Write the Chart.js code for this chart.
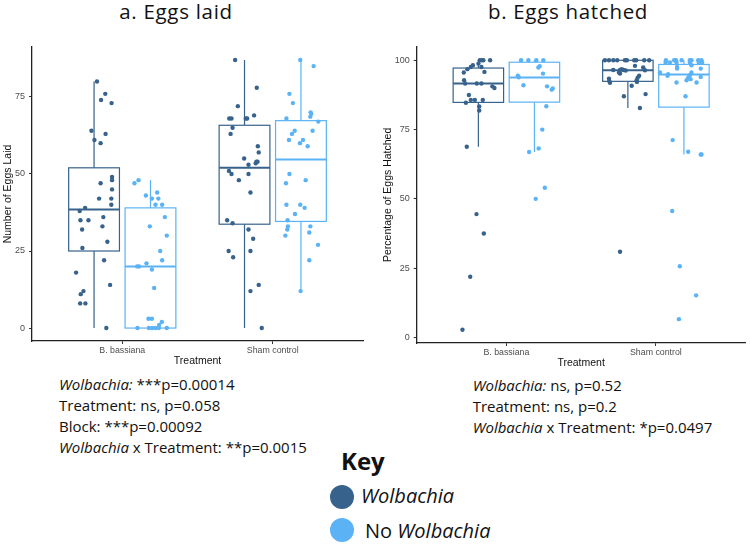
<!DOCTYPE html>
<html><head><meta charset="utf-8">
<script src="https://cdn.jsdelivr.net/npm/chart.js@4.4.1/dist/chart.umd.min.js"></script>
<style>
html,body{margin:0;padding:0;background:#fff;}
body{width:750px;height:555px;position:relative;overflow:hidden;font-family:"Open Sans",sans-serif;color:#111;}
canvas{position:absolute;}
.t{position:absolute;white-space:nowrap;}
.title{font-size:20.5px;line-height:24px;letter-spacing:0.7px;transform:translateX(-50%);}
.stats{font-size:15px;line-height:20.8px;}
.key{font-size:24px;font-weight:bold;line-height:30px;}
.lab{font-size:20px;line-height:24px;}
.dot{position:absolute;width:24px;height:24px;border-radius:50%;}
</style></head>
<body>
<div class="t title" style="left:176px;top:-1.5px">a. Eggs laid</div>
<div class="t title" style="left:568px;top:-1.5px">b. Eggs hatched</div>
<canvas id="ca" width="375" height="337" style="left:0;top:30px"></canvas>
<canvas id="cb" width="375" height="339" style="left:375px;top:30px"></canvas>
<div class="t stats" style="left:59px;top:374.4px"><i>Wolbachia:</i> ***p=0.00014<br>Treatment: ns, p=0.058<br>Block: ***p=0.00092<br><i>Wolbachia</i> x Treatment: **p=0.0015</div>
<div class="t stats" style="left:472.7px;top:375.2px"><i>Wolbachia:</i> ns, p=0.52<br>Treatment: ns, p=0.2<br><i>Wolbachia</i> x Treatment: *p=0.0497</div>
<div class="t key" style="left:341px;top:445.7px">Key</div>
<div class="dot" style="left:329.5px;top:484.6px;background:#37628c"></div>
<div class="dot" style="left:329.5px;top:518px;background:#5bb3f5"></div>
<div class="t lab" style="left:361px;top:483.5px"><i>Wolbachia</i></div>
<div class="t lab" style="left:365px;top:518.5px">No <i>Wolbachia</i></div>
<script>
// ---------- data ----------
const categories = ['B. bassiana', 'Sham control'];
const seriesNames = ['Wolbachia', 'No Wolbachia'];
const aYTicks = [0, 25, 50, 75];
const bYTicks = [0, 25, 50, 75, 100];

// box stats per category: [min, q1, median, q3, max]
const aWolBox   = [[0, 25, 38.5, 52, 80], [0, 33.7, 52, 65.8, 87]];
const aNoWolBox = [[0, 0, 20, 39, 48], [12.1, 34.6, 54.7, 67.3, 87]];
const bWolBox   = [[68.8, 84.8, 91.6, 97.2, 100], [82.8, 92.4, 96.4, 100, 100]];
const bNoWolBox = [[66.9, 84.9, 93.8, 99.3, 100], [66.0, 83.1, 94.9, 98.5, 100]];

// jittered points (x in category units, y values)
const aWolX = [0.832,0.887,0.859,0.929,0.795,0.815,0.889,0.856,0.932,0.932,0.856,0.932,0.846,0.927,0.927,0.753,0.717,0.722,0.775,0.874,0.868,0.733,0.901,0.735,0.879,0.693,0.919,0.742,0.724,0.720,0.755,0.894,
  1.750,1.894,1.768,1.711,1.726,1.821,1.830,1.876,1.733,1.720,1.901,1.907,1.810,1.839,1.887,1.892,1.899,1.709,1.726,1.839,1.775,1.852,1.697,1.733,1.839,1.870,1.707,1.852,1.737,1.907,1.852,1.927];
const aWolY = [80,76,74,73,64,61,63,60,49,48,47,45,42,42,40,39,38,35,35,36,33,32,28,26,22,18,14,12,11,8,8,0,
  87,78,72,68,68,68,68,69,65,63,59,57,55,53,53.5,54,54,51,50,50,48,44,35,34,32,29,25,25,23,14,12,0];
const aNoWolX = [1.081,1.108,1.157,1.232,1.197,1.240,1.221,1.265,1.283,1.183,1.296,1.252,1.265,1.161,1.099,1.111,1.197,1.212,1.174,1.197,1.263,1.245,1.101,1.177,1.199,1.221,1.243,1.296,
  2.183,2.272,2.111,2.134,2.252,2.256,2.250,2.091,2.303,2.146,2.128,2.265,2.108,2.201,2.181,2.232,2.111,2.088,2.219,2.091,2.183,2.212,2.148,2.099,2.101,2.097,2.250,2.243,2.084,2.301,2.243,2.185];
const aNoWolY = [47,48,43,44,42,42,40,40,36,33,30,25,22,21,20,20,19,13,3,3,2,1,0,0,0,0,0,0,
  87,85,76,73,70,69.5,68.6,68,67,64,63,64,61,61,60,59,50,47,48,40,40,39,37,35,33,32,33,31,30,27,22,12];

const bWolX = [0.706,0.758,0.849,0.800,0.735,0.818,0.818,0.729,0.762,0.789,0.842,0.749,0.717,0.724,0.802,0.833,0.906,0.920,0.715,0.739,0.762,0.776,0.853,0.833,0.822,0.836,0.846,0.891,0.813,
  1.659,1.686,1.715,1.741,1.793,1.806,1.855,1.868,1.922,1.955,1.860,1.915,1.927,1.715,1.760,1.771,1.784,1.798,1.760,1.753,1.878,1.888,1.686,1.688,1.693,1.871,1.873,1.838,1.786,1.931,1.893,1.760];
const bWolY = [2.8,21.9,37.5,44.5,68.8,83.3,81.9,84.7,85.7,85.7,85.7,87.5,92.8,91.6,91.6,91.6,90.6,90.0,95.6,96.8,97.6,98.2,95.8,97.6,100,100,100,100,98.8,
  100,100,100,100,100,100,100,100,100,100,98.0,97.4,96.4,96.5,96.5,96.8,96.5,96.3,95.2,95.6,93.7,94.4,93.4,92.5,91.9,92.8,92.2,90.8,87.0,87.8,82.8,30.9];
const bNoWolX = [1.098,1.147,1.200,1.247,1.223,1.214,1.245,1.076,1.083,1.114,1.272,1.303,1.310,1.267,1.240,1.216,1.152,1.196,1.257,
  2.067,2.122,2.134,2.172,2.227,2.238,2.283,2.305,2.065,2.094,2.138,2.227,2.287,2.309,2.142,2.142,2.238,2.300,2.027,2.082,2.078,2.238,2.227,2.216,2.205,2.232,2.300,2.138,2.272,2.198,2.112,2.216,2.300,2.305,2.109,2.160,2.269,2.154];
const bNoWolY = [100,100,100,100,97.9,97.4,95.2,94.4,93.9,91.0,90.6,89.4,89.8,83.4,75.0,68.2,66.9,50.0,54.0,
  100,100,100,100,100,100,100,100,99.2,99.2,99.2,99.2,99.2,99.2,97.6,97.0,98.2,97.0,95.6,95.0,94.4,95.6,94.6,93.7,92.8,93.2,94.0,92.0,92.0,87.0,71.2,67.0,66.0,66.0,45.6,25.7,15.2,6.6];

// ---------- styling ----------
const DARK = '#37628c', LIGHT = '#5bb3f5';
const DODGE = 0.1875, HALFW = 0.16875;

function pts(xs, ys){ return xs.map((x,i)=>({x:x, y:ys[i]})); }

function boxPlugin(groups){
  return {
    id:'boxes',
    beforeDatasetsDraw(chart){
      const {ctx, scales:{x, y}} = chart;
      ctx.save();
      groups.forEach(g=>{
        g.stats.forEach((s,i)=>{
          const c = i + 1 + g.offset;
          const xl = x.getPixelForValue(c - HALFW), xr = x.getPixelForValue(c + HALFW), xc = x.getPixelForValue(c);
          const [mn,q1,md,q3,mx] = s.map(v=>y.getPixelForValue(v));
          ctx.strokeStyle = g.color; ctx.lineWidth = 1.2;
          ctx.beginPath();
          ctx.moveTo(xc, q3); ctx.lineTo(xc, mx);
          ctx.moveTo(xc, q1); ctx.lineTo(xc, mn);
          ctx.stroke();
          ctx.fillStyle = '#fff';
          ctx.fillRect(xl, q3, xr-xl, q1-q3);
          ctx.strokeRect(xl, q3, xr-xl, q1-q3);
          ctx.lineWidth = 2;
          ctx.beginPath(); ctx.moveTo(xl, md); ctx.lineTo(xr, md); ctx.stroke();
        });
      });
      ctx.restore();
    }
  };
}

function makeChart(id, o){
  new Chart(document.getElementById(id), {
    type:'scatter',
    data:{datasets:[
      {label:seriesNames[0], data:pts(o.wx,o.wy), backgroundColor:DARK, borderWidth:0, pointRadius:2.2},
      {label:seriesNames[1], data:pts(o.nx,o.ny), backgroundColor:LIGHT, borderWidth:0, pointRadius:2.2}
    ]},
    options:{
      responsive:false, animation:false, maintainAspectRatio:false,
      layout:{padding:{top:o.padTop, right:o.padRight, left:0, bottom:0}},
      plugins:{legend:{display:false}, tooltip:{enabled:false}},
      scales:{
        x:{type:'linear', min:0.4, max:2.6,
          afterBuildTicks:s=>{ s.ticks = categories.map((c,i)=>({value:i+1})); },
          afterFit:s=>{ s.height = 26; },
          ticks:{callback:v=>categories[Math.round(v)-1], font:{family:'"Liberation Sans"', size:8.8}, color:'#4d4d4d', padding:1, maxRotation:0, autoSkip:false},
          grid:{drawOnChartArea:false, drawTicks:true, tickLength:3, color:'#333'},
          border:{display:true, color:'#222', width:1.3},
          title:{display:true, text:'Treatment', font:{family:'"Liberation Sans"', size:10.5}, color:'#111', padding:{top:0,bottom:0}}
        },
        y:{type:'linear', min:o.yMin, max:o.yMax,
          afterBuildTicks:s=>{ s.ticks = o.yTicks.map(v=>({value:v})); },
          afterFit:s=>{ s.width = o.yWidth; },
          ticks:{font:{family:'"Liberation Sans"', size:9}, color:'#4d4d4d', padding:4},
          grid:{drawOnChartArea:false, drawTicks:true, tickLength:3, color:'#333'},
          border:{display:true, color:'#222', width:1.3},
          title:{display:true, text:o.yTitle, font:{family:'"Liberation Sans"', size:10.5}, color:'#111', padding:{top:o.yTitlePad,bottom:0}}
        }
      }
    },
    plugins:[boxPlugin([
      {stats:o.wBox, offset:-DODGE, color:DARK},
      {stats:o.nBox, offset:DODGE, color:LIGHT}
    ])]
  });
}

makeChart('ca', {wx:aWolX, wy:aWolY, nx:aNoWolX, ny:aNoWolY, wBox:aWolBox, nBox:aNoWolBox,
  yTicks:aYTicks, yMin:-4.2, yMax:91.2, yTitle:'Number of Eggs Laid', yWidth:32, yTitlePad:2, padTop:17, padRight:12});
makeChart('cb', {wx:bWolX, wy:bWolY, nx:bNoWolX, ny:bNoWolY, wBox:bWolBox, nBox:bNoWolBox,
  yTicks:bYTicks, yMin:-2.0, yMax:104.9, yTitle:'Percentage of Eggs Hatched', yWidth:41.7, yTitlePad:6.7, padTop:16.7, padRight:4.4});
</script>
</body></html>
